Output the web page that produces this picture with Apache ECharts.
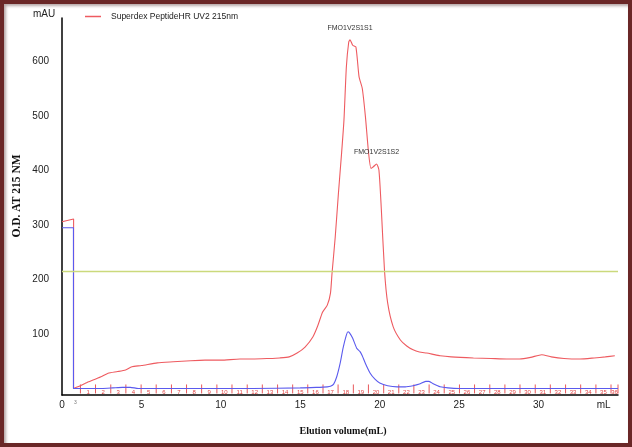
<!DOCTYPE html>
<html>
<head>
<meta charset="utf-8">
<script src="https://cdn.jsdelivr.net/npm/echarts@6/dist/echarts.min.js"></script>
<style>
html,body{margin:0;padding:0;background:#fff;}
#wrap{position:relative;width:632px;height:447px;}
#chart{position:absolute;left:0;top:0;width:632px;height:447px;}
#frame{position:absolute;left:0;top:0;width:632px;height:447px;box-sizing:border-box;border:4px solid #6a2727;box-shadow:inset 2px 2px 3px rgba(90,60,60,0.45);pointer-events:none;}
</style>
</head>
<body>
<div id="wrap"><div id="chart"></div><div id="frame"></div></div>
<script>
// Red trace: UV 215 nm (volume mL, mAU)
const redVolume = [0, 0.73, 0.73, 1.0, 1.5, 2.0, 2.5, 2.9, 3.5, 4.0, 4.4, 5.0, 6.0, 7.0, 8.1, 9.0, 10.0, 11.2, 12.0, 13.0, 13.7, 14.3, 14.8, 15.3, 15.8, 16.1, 16.4, 16.7, 16.9, 17.0, 17.2, 17.4, 17.6, 17.75, 17.9, 18.05, 18.13, 18.3, 18.5, 18.7, 18.9, 19.1, 19.3, 19.45, 19.6, 19.8, 19.95, 20.1, 20.3, 20.5, 20.85, 21.3, 21.7, 22.1, 22.5, 22.95, 23.3, 23.8, 24.5, 25.9, 27.0, 28.0, 28.8, 29.5, 30.2, 30.8, 31.6, 32.6, 33.5, 34.2, 34.8];
const redAbs    = [306, 311, 0, 3, 10, 16, 22, 28, 31, 34, 40, 42, 47, 49, 51, 52, 52, 54, 54, 55, 56, 58, 65, 76, 95, 115, 140, 153, 175, 212, 278, 358, 432, 493, 590, 636, 640, 630, 627, 572, 551, 499, 432, 404, 407, 412, 401, 330, 217, 157, 113, 89, 78, 71, 67, 65, 63, 60, 58, 56, 55, 54, 54, 57, 62, 58, 55, 54, 56, 58, 60];
// Blue trace (volume mL, mAU)
const blueVolume = [0, 0.72, 0.72, 2.5, 3.2, 3.8, 4.3, 4.8, 8.0, 12.0, 15.0, 16.0, 16.7, 16.9, 17.1, 17.3, 17.5, 17.7, 17.9, 18.0, 18.1, 18.3, 18.55, 18.75, 18.9, 19.1, 19.4, 19.7, 20.0, 20.5, 21.1, 21.6, 22.1, 22.5, 22.9, 23.1, 23.4, 23.8, 24.3, 25.0, 30.0, 35.0];
const blueAbs    = [295, 295, 0, 0, 1, 2, 2, 0, 0, 0, 1, 2, 3, 4, 8, 22, 45, 75, 98, 104, 102, 92, 74, 68, 60, 46, 28, 17, 10, 5, 3, 3, 5, 8, 13, 13, 8, 3, 1, 0, 0, 0];
// Fraction collector marks
const fractionLabels = ['1','2','3','4','5','6','7','8','9','10','11','12','13','14','15','16','17','18','19','20','21','22','23','24','25','26','27','28','29','30','31','32','33','34','35','36'];
const fractionCenters = [1.64, 2.59, 3.54, 4.50, 5.45, 6.41, 7.36, 8.32, 9.27, 10.22, 11.18, 12.13, 13.09, 14.04, 15.00, 15.95, 16.90, 17.86, 18.81, 19.77, 20.72, 21.68, 22.63, 23.58, 24.54, 25.49, 26.45, 27.40, 28.36, 29.31, 30.27, 31.22, 32.17, 33.13, 34.08, 34.78];
const fractionStarts = [1.16, 2.11, 3.07, 4.02, 4.98, 5.93, 6.89, 7.84, 8.79, 9.75, 10.70, 11.66, 12.61, 13.57, 14.52, 15.47, 16.43, 17.38, 18.34, 19.29, 20.25, 21.20, 22.15, 23.11, 24.06, 25.02, 25.97, 26.93, 27.88, 28.83, 29.79, 30.74, 31.70, 32.65, 33.61, 34.56];
const fractionEnd = 35.0;
// Axis ticks
const xTickValues = [0, 5, 10, 15, 20, 25, 30];
const xUnitPos = 34.1;
const injectionMark = 0.85;
const yTickValues = [100, 200, 300, 400, 500, 600];
const thresholdLevel = 216;
const peakLabels = ['FMO1V2S1S1', 'FMO1V2S1S2'];
const peakVolume = [18.13, 19.8];
const peakAbs = [640, 412];
const seriesName = 'Superdex PeptideHR UV2 215nm';

const zip = (a, b) => a.map((v, i) => [v, b[i]]);
const chart = echarts.init(document.getElementById('chart'), null, {renderer: 'canvas'});
const sans = 'Liberation Sans, Arial, sans-serif';
const serif = 'Liberation Serif, Times New Roman, serif';

const fractionData = fractionStarts.map((s, i) => [s, fractionCenters[i], fractionLabels[i]]);
fractionData.push([fractionEnd, null, '']);

chart.setOption({
  animation: false,
  backgroundColor: '#fff',
  grid: {left: 62, right: 14, top: 18, bottom: 52, containLabel: false},
  legend: {
    data: [seriesName], left: 85, top: 12, padding: 0, icon: 'rect', itemWidth: 16, itemHeight: 1.5, itemGap: 10,
    textStyle: {fontFamily: sans, fontSize: 8.5, color: '#222', padding: [0, 0, 0, 5]}
  },
  xAxis: {
    type: 'value', min: 0, max: 35,
    axisLine: {show: true, onZero: false, lineStyle: {color: '#000', width: 1.5}},
    axisTick: {show: false},
    splitLine: {show: false},
    axisLabel: {
      customValues: xTickValues.concat([injectionMark, xUnitPos]),
      margin: 5, fontFamily: sans, fontSize: 10, color: '#222',
      formatter: v => v === xUnitPos ? 'mL' : (v === injectionMark ? '{s|3}' : String(v)),
      rich: {s: {fontSize: 5, color: '#777'}}
    }
  },
  yAxis: {
    type: 'value', min: -12, max: 680,
    axisLine: {show: true, onZero: false, lineStyle: {color: '#000', width: 1.5}},
    axisTick: {show: false},
    splitLine: {show: false},
    axisLabel: {customValues: yTickValues, margin: 13, fontFamily: sans, fontSize: 10, color: '#222'}
  },
  series: [{
    name: 'fractions', type: 'custom', data: fractionData, silent: true, z: 1,
    renderItem: (params, api) => {
      const p = api.coord([api.value(0), 0]);
      const children = [{
        type: 'line', shape: {x1: p[0], y1: p[1] - 4, x2: p[0], y2: p[1] + 5},
        style: {stroke: '#e8595c', lineWidth: 1}
      }];
      const c = api.value(1);
      if (c !== null && !isNaN(c)) {
        const q = api.coord([c, 0]);
        children.push({
          type: 'text', x: q[0], y: q[1] + 3.5,
          style: {text: fractionData[params.dataIndex][2], fontFamily: sans, fontSize: 6, fill: '#e04848', textAlign: 'center', textVerticalAlign: 'middle'}
        });
      }
      return {type: 'group', children};
    }
  }, {
    name: seriesName, type: 'line', data: zip(redVolume, redAbs), z: 2,
    showSymbol: false, smooth: 0.2, color: '#ee5b60',
    lineStyle: {width: 1.1, color: '#ee5b60'},
    markLine: {
      silent: true, symbol: 'none', label: {show: false},
      lineStyle: {color: '#cbd97c', width: 1.3, type: 'solid'},
      data: [{yAxis: thresholdLevel}]
    },
    markPoint: {
      symbol: 'circle', symbolSize: 0,
      label: {show: true, position: 'top', distance: 8, fontFamily: sans, fontSize: 7, color: '#333', formatter: p => p.name},
      data: peakLabels.map((n, i) => ({name: n, coord: [peakVolume[i], peakAbs[i]]}))
    }
  }, {
    name: 'blue', type: 'line', data: zip(blueVolume, blueAbs), z: 3,
    showSymbol: false, smooth: 0.2, color: '#5a5aee',
    lineStyle: {width: 1.1, color: '#5a5aee'}
  }],
  graphic: [{
    type: 'text', x: 44, y: 14,
    style: {text: 'mAU', fontFamily: sans, fontSize: 10, fill: '#222', textAlign: 'center', textVerticalAlign: 'middle'}
  }, {
    type: 'text', x: 17, y: 196, rotation: Math.PI / 2,
    style: {text: 'O.D. AT 215 NM', fontFamily: serif, fontWeight: 'bold', fontSize: 11.5, fill: '#111', textAlign: 'center', textVerticalAlign: 'middle'}
  }, {
    type: 'text', x: 343, y: 431,
    style: {text: 'Elution volume(mL)', fontFamily: serif, fontWeight: 'bold', fontSize: 10, fill: '#111', textAlign: 'center', textVerticalAlign: 'middle'}
  }]
});
</script>
</body>
</html>
